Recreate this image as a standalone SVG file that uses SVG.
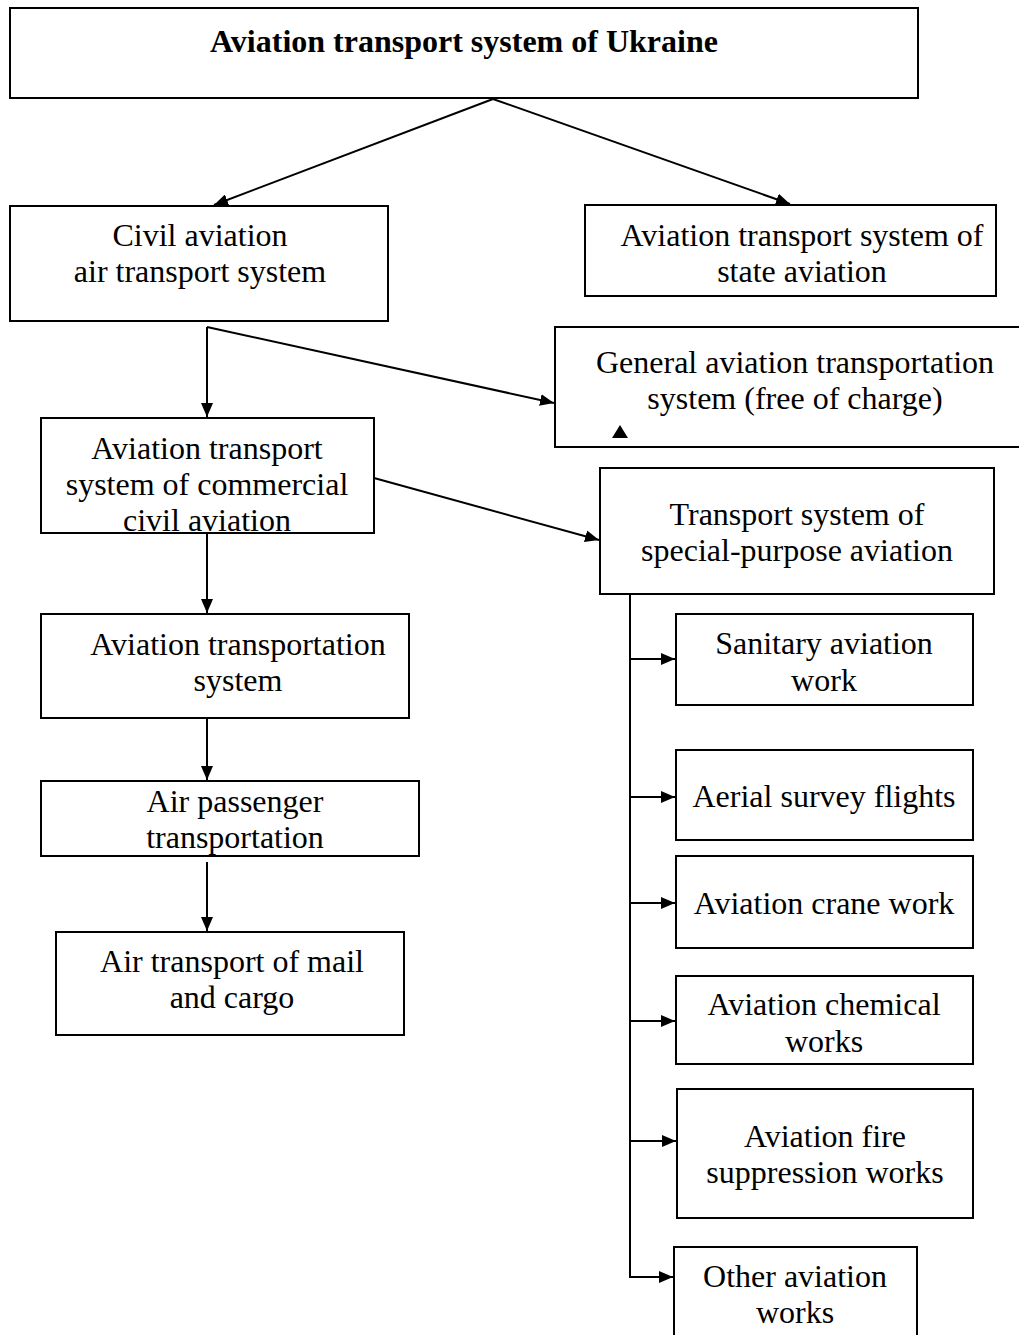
<svg xmlns="http://www.w3.org/2000/svg" width="1019" height="1335" viewBox="0 0 1019 1335">
<style>
.box{fill:#fff;stroke:#000;stroke-width:2}
.t{font-size:32px;fill:#000;text-anchor:middle}
.b{font-weight:bold;font-size:32px}
.c{stroke:#000;stroke-width:2;fill:none}
</style>
<defs>
<marker id="ar" viewBox="0 0 14 12" refX="14" refY="6" markerWidth="14" markerHeight="12" markerUnits="userSpaceOnUse" orient="auto">
<path d="M0,0 L14,6 L0,12 Z" fill="#000"/>
</marker>
</defs>
<g font-family="Liberation Serif, Tinos, DejaVu Serif, serif">
<g id="n-root"><rect class="box" x="10" y="8" width="908" height="90"/><text class="t b" x="464" y="52">Aviation transport system of Ukraine</text></g>
<g id="n-civil"><rect class="box" x="10" y="206" width="378" height="115"/><text class="t" x="200" y="246">Civil aviation</text><text class="t" x="200" y="282">air transport system</text></g>
<g id="n-state"><rect class="box" x="585" y="205" width="411" height="91"/><text class="t" x="802" y="246">Aviation transport system of</text><text class="t" x="802" y="282">state aviation</text></g>
<g id="n-general"><rect class="box" x="555" y="327" width="470" height="120"/><text class="t" x="795" y="373">General aviation transportation</text><text class="t" x="795" y="409">system (free of charge)</text><path d="M620,425 L628,438 L612,438 Z" fill="#000"/></g>
<g id="n-commercial"><rect class="box" x="41" y="418" width="333" height="115"/><text class="t" x="207" y="459">Aviation transport</text><text class="t" x="207" y="495">system of commercial</text><text class="t" x="207" y="531">civil aviation</text></g>
<g id="n-special"><rect class="box" x="600" y="468" width="394" height="126"/><text class="t" x="797" y="525">Transport system of</text><text class="t" x="797" y="561">special-purpose aviation</text></g>
<g id="n-ats"><rect class="box" x="41" y="614" width="368" height="104"/><text class="t" x="238" y="655">Aviation transportation</text><text class="t" x="238" y="691">system</text></g>
<g id="n-pass"><rect class="box" x="41" y="781" width="378" height="75"/><text class="t" x="235" y="812">Air passenger</text><text class="t" x="235" y="848">transportation</text></g>
<g id="n-mail"><rect class="box" x="56" y="932" width="348" height="103"/><text class="t" x="232" y="972">Air transport of mail</text><text class="t" x="232" y="1008">and cargo</text></g>
<g id="n-sanitary"><rect class="box" x="676" y="614" width="297" height="91"/><text class="t" x="824" y="654">Sanitary aviation</text><text class="t" x="824" y="691">work</text></g>
<g id="n-aerial"><rect class="box" x="676" y="750" width="297" height="90"/><text class="t" x="824" y="807">Aerial survey flights</text></g>
<g id="n-crane"><rect class="box" x="676" y="856" width="297" height="92"/><text class="t" x="824" y="914">Aviation crane work</text></g>
<g id="n-chem"><rect class="box" x="676" y="976" width="297" height="88"/><text class="t" x="824" y="1015">Aviation chemical</text><text class="t" x="824" y="1052">works</text></g>
<g id="n-fire"><rect class="box" x="677" y="1089" width="296" height="129"/><text class="t" x="825" y="1147">Aviation fire</text><text class="t" x="825" y="1183">suppression works</text></g>
<g id="n-other"><rect class="box" x="674" y="1247" width="243" height="100"/><text class="t" x="795" y="1287">Other aviation</text><text class="t" x="795" y="1323">works</text></g>
</g>
<g id="connectors">
<line class="c" x1="493" y1="99" x2="214" y2="205" marker-end="url(#ar)"/>
<line class="c" x1="493" y1="99" x2="790" y2="204" marker-end="url(#ar)"/>
<line class="c" x1="207" y1="327" x2="207" y2="417" marker-end="url(#ar)"/>
<line class="c" x1="207" y1="327" x2="554" y2="403" marker-end="url(#ar)"/>
<line class="c" x1="374" y1="478" x2="599" y2="540" marker-end="url(#ar)"/>
<line class="c" x1="207" y1="533" x2="207" y2="613" marker-end="url(#ar)"/>
<line class="c" x1="207" y1="718" x2="207" y2="780" marker-end="url(#ar)"/>
<line class="c" x1="207" y1="862" x2="207" y2="931" marker-end="url(#ar)"/>
<path class="c" d="M630,594 V1277 H673" marker-end="url(#ar)"/>
<line class="c" x1="630" y1="659" x2="675" y2="659" marker-end="url(#ar)"/>
<line class="c" x1="630" y1="797" x2="675" y2="797" marker-end="url(#ar)"/>
<line class="c" x1="630" y1="903" x2="675" y2="903" marker-end="url(#ar)"/>
<line class="c" x1="630" y1="1021" x2="675" y2="1021" marker-end="url(#ar)"/>
<line class="c" x1="630" y1="1141" x2="676" y2="1141" marker-end="url(#ar)"/>
</g>
</svg>
